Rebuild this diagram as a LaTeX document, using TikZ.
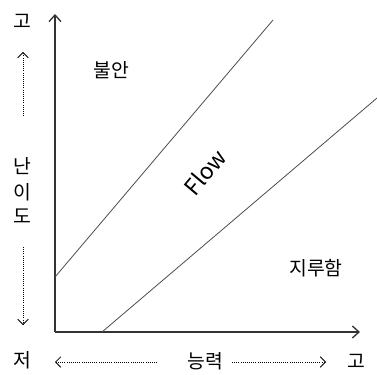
\documentclass[tikz,border=0pt]{standalone}
\usepackage{fontspec}
\setmainfont{Noto Sans CJK KR}
\usetikzlibrary{positioning,arrows.meta,calc}

\begin{document}
\begin{tikzpicture}[
    x=0.75pt,
    y=-0.75pt,
    font=\fontsize{14.5}{17}\selectfont,
    lbl/.style={inner sep=0pt, anchor=center},
    axis/.style={-{Straight Barb[length=5pt,width=9pt]}, gray!40!black, line width=1pt},
    band/.style={gray!60!black, line width=0.6pt},
    hint/.style={-{Straight Barb[length=4pt,width=8pt]}, densely dotted, line width=0.6pt}
]
\useasboundingbox (0,0) rectangle (377,374);

% ============================================================
% AXES
% ============================================================
\coordinate (origin) at (55,332);
\coordinate (ytip) at (55,14);
\coordinate (xtip) at (360,332);

\draw[axis] (origin) -- (ytip);
\draw[axis] (origin) -- (xtip);

% ============================================================
% FLOW CHANNEL
% ============================================================
\coordinate (upA) at (55,277);
\coordinate (upB) at (273,20);
\coordinate (loA) at (102,332);
\coordinate (loB) at (377,98);

\draw[band] (upA) -- (upB);
\draw[band] (loA) -- (loB);

\node[lbl] (anx) at (111,70) {불안};
\node[lbl, rotate=50, font=\fontsize{17}{20}\selectfont] (flow) at (205,172) {Flow};
\node[lbl] (bore) at (316,268) {지루함};

% ============================================================
% DIFFICULTY (vertical)
% ============================================================
\node[lbl] (yhi) at (22,21) {고};
\node[lbl] (ylo) at (22,360) {저};
\node[lbl] (diffA) at (22,166) {난};
\node[lbl, below=6pt of diffA] (diffB) {이};
\node[lbl, below=6pt of diffB] (diffC) {도};

\coordinate (yupS) at (23,116);
\coordinate (yupE) at (23,52);
\coordinate (ydnS) at (23,247);
\coordinate (ydnE) at (23,325);
\draw[hint] (yupS) -- (yupE);
\draw[hint] (ydnS) -- (ydnE);

% ============================================================
% SKILL (horizontal)
% ============================================================
\node[lbl] (skill) at (205,361) {능력};
\node[lbl] (xhi) at (356,361) {고};

\coordinate (xlS) at (157,362);
\coordinate (xlE) at (55,362);
\coordinate (xrS) at (232,362);
\coordinate (xrE) at (326,362);
\draw[hint] (xlS) -- (xlE);
\draw[hint] (xrS) -- (xrE);

\end{tikzpicture}
\end{document}
